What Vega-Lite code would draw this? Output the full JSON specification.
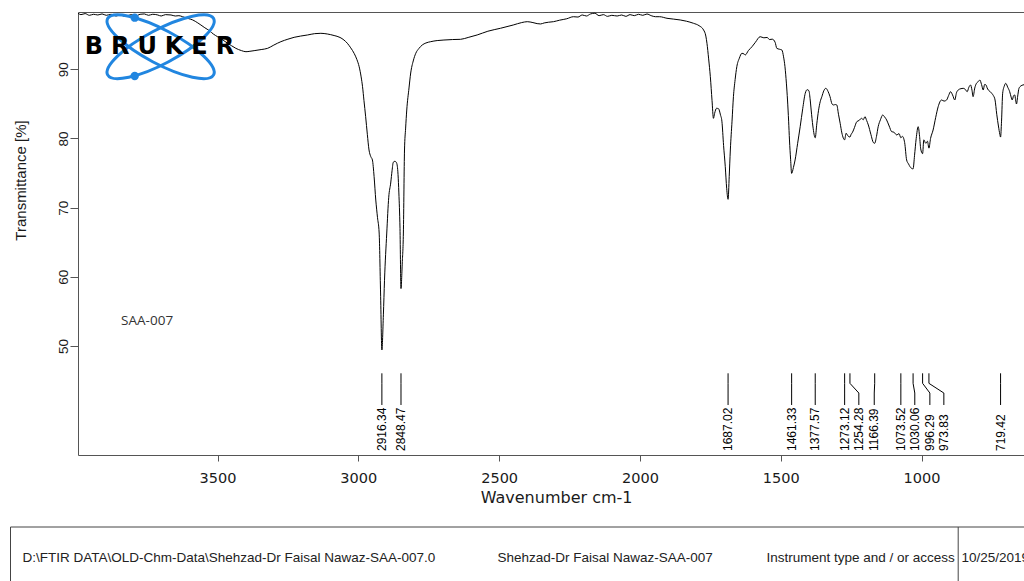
{
  "$schema": "https://vega.github.io/schema/vega-lite/v6.json",
  "background": "white",
  "padding": {"left": 10, "top": 8, "right": -187, "bottom": -3},
  "config": {
    "view": {"stroke": "#555555", "strokeWidth": 1},
    "axis": {"grid": false, "domain": false, "tickColor": "#555555", "labelColor": "#1a1a1a", "titleColor": "#1a1a1a", "titleFontWeight": "normal"},
    "font": "Liberation Sans"
  },
  "datasets": {
    "spectrum": [
      {"wn": 3995, "T": 98.1}, {"wn": 3985, "T": 97.9}, {"wn": 3970, "T": 98.05}, {"wn": 3955, "T": 97.8},
      {"wn": 3940, "T": 97.95}, {"wn": 3925, "T": 97.85}, {"wn": 3910, "T": 98.0}, {"wn": 3895, "T": 97.8},
      {"wn": 3878, "T": 97.95}, {"wn": 3860, "T": 97.7}, {"wn": 3845, "T": 97.85}, {"wn": 3830, "T": 97.65},
      {"wn": 3819, "T": 97.75}, {"wn": 3805, "T": 97.9}, {"wn": 3790, "T": 97.7}, {"wn": 3775, "T": 97.95},
      {"wn": 3760, "T": 98.0}, {"wn": 3745, "T": 97.8}, {"wn": 3730, "T": 97.95}, {"wn": 3712, "T": 97.85},
      {"wn": 3700, "T": 97.7}, {"wn": 3685, "T": 97.9}, {"wn": 3665, "T": 97.85}, {"wn": 3650, "T": 97.7},
      {"wn": 3637, "T": 97.75}, {"wn": 3624, "T": 97.6}, {"wn": 3605, "T": 97.35}, {"wn": 3588, "T": 97.13},
      {"wn": 3570, "T": 96.7}, {"wn": 3559, "T": 96.4}, {"wn": 3545, "T": 96.0}, {"wn": 3529, "T": 95.58},
      {"wn": 3515, "T": 95.1}, {"wn": 3500, "T": 94.71}, {"wn": 3480, "T": 94.2}, {"wn": 3464, "T": 93.76},
      {"wn": 3450, "T": 93.4}, {"wn": 3435, "T": 93.03}, {"wn": 3415, "T": 92.7}, {"wn": 3399, "T": 92.54},
      {"wn": 3385, "T": 92.6}, {"wn": 3370, "T": 92.69}, {"wn": 3345, "T": 92.85}, {"wn": 3322, "T": 93.03},
      {"wn": 3300, "T": 93.5}, {"wn": 3275, "T": 93.99}, {"wn": 3250, "T": 94.35}, {"wn": 3228, "T": 94.62},
      {"wn": 3205, "T": 94.8}, {"wn": 3180, "T": 94.96}, {"wn": 3155, "T": 95.15}, {"wn": 3133, "T": 95.2},
      {"wn": 3110, "T": 95.1}, {"wn": 3086, "T": 94.88}, {"wn": 3065, "T": 94.6}, {"wn": 3051, "T": 94.23},
      {"wn": 3039, "T": 93.76}, {"wn": 3027, "T": 93.1}, {"wn": 3015, "T": 92.31}, {"wn": 3005, "T": 91.4},
      {"wn": 2997, "T": 90.37}, {"wn": 2990, "T": 88.9}, {"wn": 2985, "T": 87.48}, {"wn": 2980, "T": 85.5},
      {"wn": 2974, "T": 83.15}, {"wn": 2968, "T": 80.6}, {"wn": 2962, "T": 78.33}, {"wn": 2956, "T": 77.4},
      {"wn": 2950, "T": 76.89}, {"wn": 2944, "T": 74.5}, {"wn": 2938, "T": 71.1}, {"wn": 2932, "T": 68.6},
      {"wn": 2926, "T": 66.33}, {"wn": 2921, "T": 57.66}, {"wn": 2916.34, "T": 49.42}, {"wn": 2911, "T": 54.5},
      {"wn": 2907, "T": 59.5}, {"wn": 2899, "T": 66.33}, {"wn": 2892, "T": 71.5}, {"wn": 2885, "T": 73.56},
      {"wn": 2880, "T": 75.4}, {"wn": 2876, "T": 76.55}, {"wn": 2870, "T": 76.7}, {"wn": 2864, "T": 76.45},
      {"wn": 2859, "T": 74.8}, {"wn": 2856, "T": 72.12}, {"wn": 2852, "T": 67.0}, {"wn": 2848.47, "T": 58.3},
      {"wn": 2844, "T": 62.0}, {"wn": 2840, "T": 66.33}, {"wn": 2836, "T": 78.33}, {"wn": 2832, "T": 81.5},
      {"wn": 2828, "T": 84.11}, {"wn": 2820, "T": 87.3}, {"wn": 2814, "T": 89.46}, {"wn": 2805, "T": 91.2},
      {"wn": 2796, "T": 92.31}, {"wn": 2785, "T": 93.0}, {"wn": 2773, "T": 93.51}, {"wn": 2760, "T": 93.8},
      {"wn": 2743, "T": 93.99}, {"wn": 2720, "T": 94.15}, {"wn": 2696, "T": 94.23}, {"wn": 2665, "T": 94.3},
      {"wn": 2637, "T": 94.33}, {"wn": 2610, "T": 94.6}, {"wn": 2578, "T": 94.96}, {"wn": 2540, "T": 95.5},
      {"wn": 2495, "T": 95.93}, {"wn": 2450, "T": 96.4}, {"wn": 2420, "T": 96.75}, {"wn": 2400, "T": 96.88},
      {"wn": 2380, "T": 96.75}, {"wn": 2365, "T": 96.6}, {"wn": 2353, "T": 96.55}, {"wn": 2340, "T": 96.7},
      {"wn": 2325, "T": 96.8}, {"wn": 2307, "T": 96.88}, {"wn": 2285, "T": 97.1}, {"wn": 2260, "T": 97.3},
      {"wn": 2236, "T": 97.6}, {"wn": 2220, "T": 97.55}, {"wn": 2205, "T": 97.85}, {"wn": 2190, "T": 97.7},
      {"wn": 2176, "T": 97.99}, {"wn": 2160, "T": 98.1}, {"wn": 2145, "T": 97.75}, {"wn": 2130, "T": 97.9},
      {"wn": 2115, "T": 97.65}, {"wn": 2100, "T": 97.8}, {"wn": 2081, "T": 97.7}, {"wn": 2065, "T": 97.85},
      {"wn": 2050, "T": 97.65}, {"wn": 2035, "T": 97.9}, {"wn": 2020, "T": 97.75}, {"wn": 2005, "T": 97.95},
      {"wn": 1990, "T": 97.8}, {"wn": 1975, "T": 97.99}, {"wn": 1960, "T": 97.75}, {"wn": 1945, "T": 97.6},
      {"wn": 1930, "T": 97.6}, {"wn": 1904, "T": 97.37}, {"wn": 1880, "T": 97.25}, {"wn": 1857, "T": 97.13},
      {"wn": 1835, "T": 96.95}, {"wn": 1810, "T": 96.65}, {"wn": 1790, "T": 96.3}, {"wn": 1774, "T": 95.68},
      {"wn": 1766, "T": 94.8}, {"wn": 1762, "T": 93.76}, {"wn": 1756, "T": 91.5}, {"wn": 1750, "T": 88.93},
      {"wn": 1744, "T": 85.5}, {"wn": 1739, "T": 82.91}, {"wn": 1735, "T": 83.6}, {"wn": 1728, "T": 84.36},
      {"wn": 1721, "T": 84.3}, {"wn": 1714, "T": 83.4}, {"wn": 1709, "T": 82.5}, {"wn": 1703, "T": 79.0},
      {"wn": 1697, "T": 75.92}, {"wn": 1692, "T": 72.8}, {"wn": 1687.02, "T": 71.2}, {"wn": 1683, "T": 74.5},
      {"wn": 1679, "T": 78.33}, {"wn": 1673, "T": 82.5}, {"wn": 1668, "T": 86.04}, {"wn": 1662, "T": 88.5},
      {"wn": 1656, "T": 90.37}, {"wn": 1647, "T": 91.6}, {"wn": 1638, "T": 92.31}, {"wn": 1630, "T": 92.2},
      {"wn": 1626, "T": 92.07}, {"wn": 1615, "T": 92.7}, {"wn": 1602, "T": 93.27}, {"wn": 1590, "T": 93.9},
      {"wn": 1573, "T": 94.71}, {"wn": 1560, "T": 94.55}, {"wn": 1548, "T": 94.6}, {"wn": 1540, "T": 94.3},
      {"wn": 1530, "T": 94.35}, {"wn": 1520, "T": 93.9}, {"wn": 1514, "T": 93.03}, {"wn": 1505, "T": 92.9},
      {"wn": 1496, "T": 92.79}, {"wn": 1490, "T": 91.8}, {"wn": 1485, "T": 90.37}, {"wn": 1480, "T": 88.0},
      {"wn": 1476, "T": 85.56}, {"wn": 1472, "T": 82.5}, {"wn": 1469, "T": 79.78}, {"wn": 1465, "T": 77.0},
      {"wn": 1461.33, "T": 74.95}, {"wn": 1455, "T": 75.8}, {"wn": 1449, "T": 76.89}, {"wn": 1440, "T": 79.3},
      {"wn": 1431, "T": 81.7}, {"wn": 1422, "T": 84.3}, {"wn": 1413, "T": 86.53}, {"wn": 1406, "T": 87.05},
      {"wn": 1400, "T": 86.9}, {"wn": 1396, "T": 85.8}, {"wn": 1392, "T": 84.11}, {"wn": 1386, "T": 81.8},
      {"wn": 1377.57, "T": 80.1}, {"wn": 1372, "T": 82.1}, {"wn": 1366, "T": 84.0}, {"wn": 1360, "T": 85.3},
      {"wn": 1354, "T": 86.04}, {"wn": 1347, "T": 86.9}, {"wn": 1340, "T": 87.25}, {"wn": 1332, "T": 86.8},
      {"wn": 1325, "T": 86.04}, {"wn": 1318, "T": 85.0}, {"wn": 1313, "T": 84.84}, {"wn": 1306, "T": 84.9},
      {"wn": 1301, "T": 84.84}, {"wn": 1295, "T": 83.5}, {"wn": 1289, "T": 82.19}, {"wn": 1283, "T": 80.8},
      {"wn": 1273.12, "T": 79.8}, {"wn": 1268, "T": 80.75}, {"wn": 1262, "T": 80.4}, {"wn": 1254.28, "T": 80.2},
      {"wn": 1250, "T": 80.6}, {"wn": 1245, "T": 80.9}, {"wn": 1238, "T": 81.6}, {"wn": 1230, "T": 82.42},
      {"wn": 1222, "T": 82.6}, {"wn": 1213, "T": 82.91}, {"wn": 1207, "T": 82.7}, {"wn": 1201, "T": 83.15},
      {"wn": 1195, "T": 82.6}, {"wn": 1189, "T": 81.95}, {"wn": 1180, "T": 80.6}, {"wn": 1171, "T": 79.4},
      {"wn": 1166.39, "T": 79.3}, {"wn": 1160, "T": 80.3}, {"wn": 1154, "T": 81.7}, {"wn": 1146, "T": 82.7},
      {"wn": 1138, "T": 83.39}, {"wn": 1131, "T": 83.1}, {"wn": 1124, "T": 82.67}, {"wn": 1115, "T": 81.8},
      {"wn": 1106, "T": 80.98}, {"wn": 1098, "T": 80.9}, {"wn": 1088, "T": 80.5}, {"wn": 1080, "T": 80.7},
      {"wn": 1073.52, "T": 80.1}, {"wn": 1068, "T": 80.3}, {"wn": 1060, "T": 79.4}, {"wn": 1053, "T": 76.89},
      {"wn": 1046, "T": 76.3}, {"wn": 1041, "T": 75.92}, {"wn": 1030.06, "T": 75.6}, {"wn": 1025, "T": 77.5},
      {"wn": 1019, "T": 80.0}, {"wn": 1012, "T": 81.7}, {"wn": 1007, "T": 80.3}, {"wn": 1003, "T": 78.5},
      {"wn": 996.29, "T": 77.8}, {"wn": 992, "T": 79.8}, {"wn": 985, "T": 79.3}, {"wn": 979, "T": 79.6},
      {"wn": 973.83, "T": 78.6}, {"wn": 968, "T": 80.0}, {"wn": 959, "T": 81.22}, {"wn": 950, "T": 83.0},
      {"wn": 941, "T": 84.59}, {"wn": 929, "T": 85.56}, {"wn": 920, "T": 85.4}, {"wn": 911, "T": 85.56},
      {"wn": 904, "T": 86.2}, {"wn": 897, "T": 86.76}, {"wn": 890, "T": 86.3}, {"wn": 882, "T": 85.56},
      {"wn": 876, "T": 86.6}, {"wn": 870, "T": 87.0}, {"wn": 860, "T": 87.2}, {"wn": 852, "T": 87.25},
      {"wn": 845, "T": 87.1}, {"wn": 838, "T": 86.76}, {"wn": 832, "T": 87.4}, {"wn": 826, "T": 87.73},
      {"wn": 821, "T": 87.0}, {"wn": 817, "T": 86.04}, {"wn": 811, "T": 87.3}, {"wn": 805, "T": 87.97},
      {"wn": 799, "T": 88.2}, {"wn": 793, "T": 88.45}, {"wn": 787, "T": 87.8}, {"wn": 781, "T": 87.0},
      {"wn": 776, "T": 87.8}, {"wn": 771, "T": 87.73}, {"wn": 767, "T": 87.3}, {"wn": 763, "T": 87.0},
      {"wn": 757, "T": 86.8}, {"wn": 751, "T": 86.53}, {"wn": 745, "T": 86.2}, {"wn": 739, "T": 85.56},
      {"wn": 733, "T": 83.5}, {"wn": 727, "T": 81.8}, {"wn": 722, "T": 80.6}, {"wn": 719.42, "T": 80.2},
      {"wn": 716, "T": 82.5}, {"wn": 712, "T": 86.53}, {"wn": 706, "T": 87.6}, {"wn": 701, "T": 87.97},
      {"wn": 694, "T": 87.4}, {"wn": 687, "T": 86.76}, {"wn": 682, "T": 86.0}, {"wn": 678, "T": 85.56},
      {"wn": 673, "T": 86.2}, {"wn": 669, "T": 86.28}, {"wn": 666, "T": 85.6}, {"wn": 663, "T": 84.98},
      {"wn": 658, "T": 86.3}, {"wn": 654, "T": 87.25}, {"wn": 647, "T": 87.6}, {"wn": 640, "T": 87.73},
      {"wn": 630, "T": 87.8}, {"wn": 620, "T": 87.7}, {"wn": 610, "T": 87.6}, {"wn": 600, "T": 87.7}
    ],
    "peaks": [
      {"wn": 2916.34, "lab": 2916.34}, {"wn": 2848.47, "lab": 2848.47}, {"wn": 1687.02, "lab": 1687.02},
      {"wn": 1461.33, "lab": 1461.33}, {"wn": 1377.57, "lab": 1377.57}, {"wn": 1273.12, "lab": 1273.12},
      {"wn": 1254.28, "lab": 1222.7}, {"wn": 1166.39, "lab": 1168}, {"wn": 1073.52, "lab": 1073.52},
      {"wn": 1030.06, "lab": 1024}, {"wn": 996.29, "lab": 970.5}, {"wn": 973.83, "lab": 920.8},
      {"wn": 719.42, "lab": 719.42}
    ],
    "footer": [
      {"cell": "file", "tab": 12, "text": "D:\\FTIR DATA\\OLD-Chm-Data\\Shehzad-Dr Faisal Nawaz-SAA-007.0"},
      {"cell": "sample", "tab": 487, "text": "Shehzad-Dr Faisal Nawaz-SAA-007"},
      {"cell": "instrument", "tab": 756, "text": "Instrument type and / or accessory"},
      {"cell": "date", "tab": 951, "text": "10/25/2019"}
    ]
  },
  "columns": 1,
  "spacing": 20,
  "concat": [
    {
      "width": 956.2,
      "height": 443,
      "view": {"stroke": "#555555"},
      "layer": [
        {
          "data": {"name": "spectrum"},
          "mark": {"type": "line", "color": "#000000", "strokeWidth": 1, "interpolate": "monotone", "clip": true},
          "encoding": {
            "x": {
              "field": "wn", "type": "quantitative",
              "scale": {"domain": [600, 3995.4], "reverse": true, "nice": false, "zero": false},
              "axis": {
                "values": [3500, 3000, 2500, 2000, 1500, 1000], "format": "d",
                "tickSize": 6, "labelPadding": 10, "labelFont": "DejaVu Sans", "labelFontSize": 14.5,
                "title": "Wavenumber cm-1", "titleFont": "DejaVu Sans", "titleFontSize": 16, "titlePadding": 5
              }
            },
            "y": {
              "field": "T", "type": "quantitative",
              "scale": {"domain": [34.24, 98.28], "nice": false, "zero": false},
              "axis": {
                "values": [50, 60, 70, 80, 90], "tickSize": 8, "labelAngle": 270, "labelAlign": "center",
                "labelBaseline": "alphabetic", "labelPadding": 3, "labelFont": "Liberation Sans", "labelFontSize": 13.5,
                "title": "Transmittance [%]", "titleFont": "Liberation Sans", "titleFontSize": 15, "titleAngle": 270,
                "titleAlign": "center", "titleBaseline": "middle", "titleX": -58, "titleY": 168
              }
            }
          }
        },
        {
          "data": {"name": "peaks"},
          "mark": {"type": "rule", "color": "#000000", "strokeWidth": 1},
          "encoding": {
            "x": {"field": "wn", "type": "quantitative", "title": "Wavenumber cm-1"},
            "y": {"datum": 46.05, "title": "Transmittance [%]"},
            "y2": {"datum": 44.6}
          }
        },
        {
          "data": {"name": "peaks"},
          "mark": {"type": "rule", "color": "#000000", "strokeWidth": 1},
          "encoding": {
            "x": {"field": "wn", "type": "quantitative", "title": "Wavenumber cm-1"},
            "x2": {"field": "lab"},
            "y": {"datum": 44.6, "title": "Transmittance [%]"},
            "y2": {"datum": 43.2}
          }
        },
        {
          "data": {"name": "peaks"},
          "mark": {"type": "rule", "color": "#000000", "strokeWidth": 1},
          "encoding": {
            "x": {"field": "lab", "type": "quantitative", "title": "Wavenumber cm-1"},
            "y": {"datum": 43.2, "title": "Transmittance [%]"},
            "y2": {"datum": 41.47}
          }
        },
        {
          "data": {"name": "peaks"},
          "mark": {"type": "text", "angle": 270, "align": "left", "baseline": "middle", "font": "Liberation Sans", "fontSize": 12, "color": "#000000"},
          "encoding": {
            "x": {"field": "lab", "type": "quantitative", "title": "Wavenumber cm-1"},
            "y": {"datum": 34.82, "title": "Transmittance [%]"},
            "text": {"field": "wn", "type": "quantitative", "format": ".2f"}
          }
        },
        {
          "data": {"values": [{}]},
          "mark": {"type": "text", "text": "SAA-007", "font": "Open Sans", "fontSize": 13.5, "color": "#333333", "align": "center", "baseline": "middle"},
          "encoding": {"x": {"datum": 3750}, "y": {"datum": 53.6}}
        },
        {
          "data": {"values": [{}]},
          "mark": {"type": "point", "shape": "M -1 0 A 1 0.283 0 1 0 1 0 A 1 0.283 0 1 0 -1 0 Z", "filled": false, "color": "#2186e0", "strokeWidth": 3, "size": 14400, "angle": 28, "opacity": 1},
          "encoding": {"x": {"datum": 3702}, "y": {"datum": 93.26}}
        },
        {
          "data": {"values": [{}]},
          "mark": {"type": "point", "shape": "M -1 0 A 1 0.283 0 1 0 1 0 A 1 0.283 0 1 0 -1 0 Z", "filled": false, "color": "#2186e0", "strokeWidth": 3, "size": 14400, "angle": 332, "opacity": 1},
          "encoding": {"x": {"datum": 3702}, "y": {"datum": 93.26}}
        },
        {
          "data": {"values": [{}]},
          "mark": {"type": "point", "shape": "circle", "filled": true, "color": "#2186e0", "size": 70, "opacity": 1},
          "encoding": {"x": {"datum": 3794}, "y": {"datum": 97.46}}
        },
        {
          "data": {"values": [{}]},
          "mark": {"type": "point", "shape": "circle", "filled": true, "color": "#2186e0", "size": 70, "opacity": 1},
          "encoding": {"x": {"datum": 3794}, "y": {"datum": 89.03}}
        },
        {
          "data": {"values": [{}]},
          "mark": {"type": "text", "text": "B\u2004R\u2004U\u2004K\u2004E\u2004R", "font": "DejaVu Sans", "fontWeight": "bold", "fontSize": 24, "color": "#000000", "align": "center", "baseline": "middle"},
          "encoding": {"x": {"datum": 3706}, "y": {"datum": 93.26}}
        }
      ]
    },
    {
      "width": 946.5,
      "height": 61,
      "view": {"stroke": null},
      "layer": [
        {
          "data": {"values": [{}]},
          "mark": {"type": "rect", "fill": "transparent", "stroke": "#444444", "strokeWidth": 1},
          "encoding": {
            "x": {"datum": 0, "scale": {"domain": [0, 1014], "range": [-67.5, 946.5], "nice": false, "zero": false}, "axis": null},
            "x2": {"datum": 1200}
          }
        },
        {
          "data": {"name": "footer"},
          "transform": [{"filter": "datum.cell != 'instrument'"}],
          "mark": {"type": "text", "align": "left", "baseline": "middle", "font": "Liberation Sans", "fontSize": 13.5, "color": "#222222"},
          "encoding": {
            "x": {"field": "tab", "type": "quantitative", "axis": null},
            "text": {"field": "text"}
          }
        },
        {
          "data": {"name": "footer"},
          "transform": [{"filter": "datum.cell == 'instrument'"}],
          "mark": {"type": "text", "align": "left", "baseline": "middle", "font": "Liberation Sans", "fontSize": 13.5, "color": "#222222", "limit": 193, "ellipsis": "\u200b"},
          "encoding": {
            "x": {"field": "tab", "type": "quantitative", "axis": null},
            "text": {"field": "text"}
          }
        },
        {
          "data": {"values": [{"tab": 947.7}]},
          "mark": {"type": "rule", "color": "#444444", "strokeWidth": 1},
          "encoding": {"x": {"field": "tab", "type": "quantitative", "axis": null}}
        }
      ]
    }
  ]
}
